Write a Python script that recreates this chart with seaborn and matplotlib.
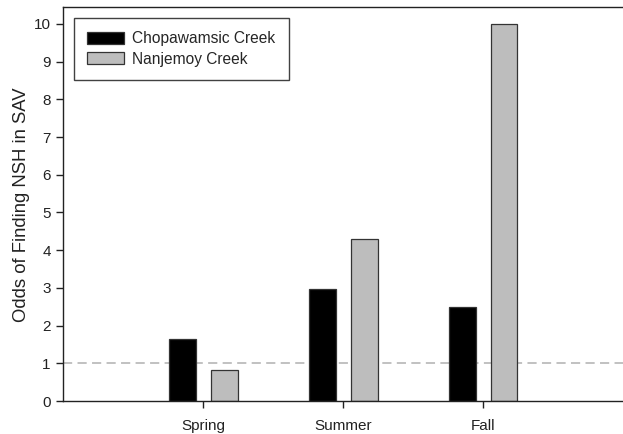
import matplotlib
matplotlib.use("Agg")
import matplotlib.pyplot as plt
import pandas as pd
import seaborn as sns

seasons = ["Spring", "Summer", "Fall"]
chopawamsic = [1.65, 2.96, 2.50]
nanjemoy = [0.83, 4.31, 10.0]
creeks = ["Chopawamsic Creek", "Nanjemoy Creek"]
yticks = list(range(0, 11))

df = pd.DataFrame({
    "Season": seasons * 2,
    "Creek": [creeks[0]] * 3 + [creeks[1]] * 3,
    "Odds": chopawamsic + nanjemoy,
})

sns.set_style("ticks")
plt.rcParams["font.family"] = ["Liberation Sans", "DejaVu Sans"]

fig, ax = plt.subplots(figsize=(6.23, 4.34), dpi=100)
fig.subplots_adjust(left=0.1016, right=1.0, top=0.983, bottom=0.076)

sns.barplot(
    data=df, x="Season", y="Odds", hue="Creek", order=seasons, hue_order=creeks,
    palette=["#000000", "#bdbdbd"], width=0.6, gap=0.36, ax=ax,
    edgecolor="#333333", linewidth=0.9, saturation=1,
)
ax.axhline(1, color="#b0b0b0", linestyle=(0, (6, 3.5)), linewidth=1.1, zorder=0.5)

ax.set_xlim(-1, 3)
ax.set_ylim(0, 10.44)
ax.set_yticks(yticks)
ax.set_xlabel("")
ax.set_ylabel("Odds of Finding NSH in SAV", fontsize=13.3, color="#222222", labelpad=3)
ax.tick_params(axis="both", labelsize=11, colors="#222222", length=5, width=1)
ax.tick_params(axis="x", pad=8)
ax.tick_params(axis="y", pad=4)
for sp in ax.spines.values():
    sp.set_color("#222222")
    sp.set_linewidth(1.0)
ax.spines["right"].set_visible(False)

leg = ax.legend(
    loc="upper left", bbox_to_anchor=(0.019, 0.973), frameon=True, fancybox=False,
    edgecolor="#111111", fontsize=11.2, handlelength=2.4, handleheight=0.85,
    borderpad=0.85, labelspacing=0.35, handletextpad=0.5, borderaxespad=0,
)
leg.get_frame().set_linewidth(1.0)

fig.savefig("out.png", dpi=100)
